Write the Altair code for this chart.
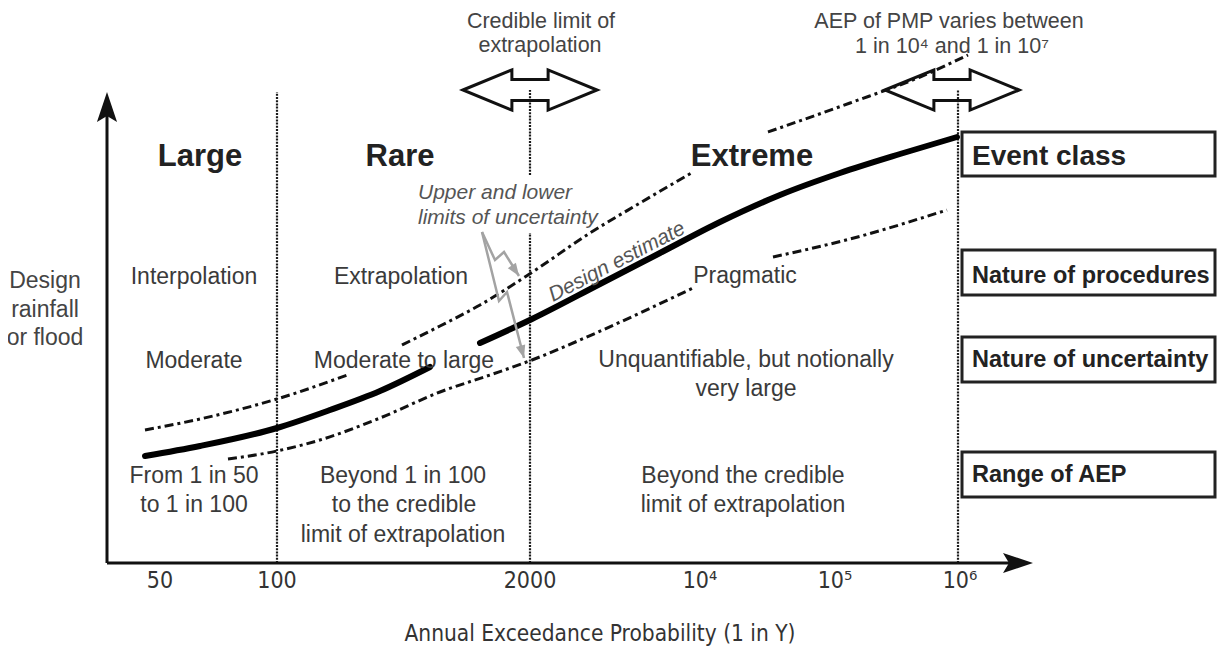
import altair as alt
import pandas as pd

# Diagram units: X = distance to the right of the vertical axis, Y = height above the horizontal axis
X_DOMAIN = [-99, 1110]
Y_DOMAIN = [-80, 555]

# ---- curves (design estimate and uncertainty limits), split where labels interrupt them ----
design_x_a = [38, 93, 170, 223, 273, 323]
design_y_a = [107, 117, 135, 153, 172, 196]
design_x_b = [373, 425, 493, 553, 613, 673, 733, 793, 850]
design_y_b = [220, 244, 279, 310, 341, 368, 390, 409, 426]

upper_x_a = [38, 93, 170, 243]
upper_y_a = [133, 144, 164, 189]
upper_x_b = [295, 333, 373, 424, 483, 533, 586]
upper_y_b = [218, 237, 258, 290, 330, 360, 391]
upper_x_c = [661, 743, 813, 861]
upper_y_c = [431, 460, 486, 508]

lower_x_a = [121, 170, 213, 273, 333, 383, 425, 473, 533, 586]
lower_y_a = [104, 112, 123, 145, 171, 188, 203, 223, 250, 275]
lower_x_b = [666, 743, 840]
lower_y_b = [306, 324, 353]

# ---- axis, ticks ----
tick_pos = [53, 170, 423, 593, 728, 853]
tick_labels = ["50", "100", "2000", "10⁴", "10⁵", "10⁶"]
x_title = "Annual Exceedance Probability (1 in Y)"
y_title_lines = ["Design", "rainfall", "or flood"]
y_title_y = [275, 246, 218]

# vertical class boundaries (x, y start, y end, width)
bound_x = [170, 423, 423, 851]
bound_y1 = [0, 0, 388, 0]
bound_y2 = [471, 330, 473, 473]

# ---- text ----
class_names = ["Large", "Rare", "Extreme"]
class_x = [93, 293, 645]

body_text = ["Interpolation", "Extrapolation", "Pragmatic",
             "Moderate", "Moderate to large", "Unquantifiable, but notionally", "very large",
             "From 1 in 50", "to 1 in 100",
             "Beyond 1 in 100", "to the credible", "limit of extrapolation",
             "Beyond the credible", "limit of extrapolation"]
body_x = [87, 294, 638, 87, 297, 639, 639, 87, 87, 296, 297, 296, 636, 636]
body_y = [279, 279, 280, 195, 195, 196, 167, 80, 51, 80, 51, 21, 80, 51]

top_text = ["Credible limit of", "extrapolation", "AEP of PMP varies between", "1 in 10⁴ and 1 in 10⁷"]
top_x = [434, 433, 842, 845]
top_y = [535, 511, 535, 510]

note_text = ["Upper and lower", "limits of uncertainty"]
note_x = [311, 311]
note_y = [364, 339]

box_labels = ["Event class", "Nature of procedures", "Nature of uncertainty", "Range of AEP"]
box_y1 = [387, 268, 181, 66]
box_y2 = [431, 313, 226, 111]
box_text_y = [398, 280, 196, 81]

# gray pointer arrows
ptr_id = [1, 1, 1, 1, 2, 2, 2, 2]
ptr_x = [375, 388, 397, 412, 375, 392, 400, 417]
ptr_y = [331, 303, 311, 287, 331, 262, 271, 205]
ptr_tip_x = [412, 417]
ptr_tip_y = [287, 205]
ptr_tip_angle = [326, 344]

# hollow double arrows
dbl_x = [423, 845]
dbl_y = [473, 473]

SANS = "Liberation Sans, Arial, Helvetica, sans-serif"
NARROW = "Liberation Sans Narrow, Arial Narrow, DejaVu Sans Condensed, sans-serif"

xs = alt.Scale(domain=X_DOMAIN, nice=False, zero=False)
ys = alt.Scale(domain=Y_DOMAIN, nice=False, zero=False)


def X(f="x"):
    return alt.X(f"{f}:Q", scale=xs, axis=None)


def Y(f="y"):
    return alt.Y(f"{f}:Q", scale=ys, axis=None)


def segs(*parts):
    rows = []
    for s, (xv, yv) in enumerate(parts):
        for i, (a, b) in enumerate(zip(xv, yv)):
            rows.append({"x": a, "y": b, "seg": s, "o": i})
    return pd.DataFrame(rows)


def text_layer(texts, xv, yv, size, color="#333333", weight="normal", style="normal",
               align="center", font=SANS, baseline="alphabetic", angle=None):
    df = pd.DataFrame({"t": texts, "x": xv, "y": yv})
    kw = dict(fontSize=size, color=color, fontWeight=weight, fontStyle=style,
              align=align, font=font, baseline=baseline)
    if angle is not None:
        kw["angle"] = angle
    return alt.Chart(df).mark_text(**kw).encode(x=X(), y=Y(), text="t:N")


layers = []

# boundaries (dotted)
bdf = pd.DataFrame({"x": bound_x, "y": bound_y1, "y2": bound_y2})
layers.append(alt.Chart(bdf).mark_rule(color="#1a1a1a", strokeWidth=2.2, strokeDash=[2, 1.2]).encode(
    x=X(), y=Y(), y2="y2:Q"))

# axes
axdf = pd.DataFrame({"x": [0, 0], "y": [0, 0], "x2": [0, 905], "y2": [452, 0]})
layers.append(alt.Chart(axdf).mark_rule(color="#111111", strokeWidth=3).encode(
    x=X(), y=Y(), x2="x2:Q", y2="y2:Q"))
ahead_up = pd.DataFrame({"x": [0], "y": [471]})
layers.append(alt.Chart(ahead_up).mark_point(
    shape="M0,0L0.67,2L0,1.6L-0.67,2Z", size=900, filled=True, color="#111111", opacity=1).encode(x=X(), y=Y()))
ahead_right = pd.DataFrame({"x": [926], "y": [0]})
layers.append(alt.Chart(ahead_right).mark_point(
    shape="M0,0L-2,-0.67L-1.6,0L-2,0.67Z", size=900, filled=True, color="#111111", opacity=1).encode(x=X(), y=Y()))

# curves
ddf = segs((design_x_a, design_y_a), (design_x_b, design_y_b))
layers.append(alt.Chart(ddf).mark_line(color="#000000", strokeWidth=6, interpolate="monotone",
                                       strokeCap="round").encode(
    x=X(), y=Y(), detail="seg:N", order="o:Q"))
udf = segs((upper_x_a, upper_y_a), (upper_x_b, upper_y_b), (upper_x_c, upper_y_c))
layers.append(alt.Chart(udf).mark_line(color="#111111", strokeWidth=3, interpolate="monotone",
                                       strokeDash=[9, 4, 3, 4]).encode(
    x=X(), y=Y(), detail="seg:N", order="o:Q"))
ldf = segs((lower_x_a, lower_y_a), (lower_x_b, lower_y_b))
layers.append(alt.Chart(ldf).mark_line(color="#111111", strokeWidth=3, interpolate="monotone",
                                       strokeDash=[9, 4, 3, 4]).encode(
    x=X(), y=Y(), detail="seg:N", order="o:Q"))

# gray pointer arrows
pdf = pd.DataFrame({"x": ptr_x, "y": ptr_y, "id": ptr_id, "o": list(range(len(ptr_x)))})
layers.append(alt.Chart(pdf).mark_line(color="#a3a3a3", strokeWidth=2.5).encode(
    x=X(), y=Y(), detail="id:N", order="o:Q"))
tdf = pd.DataFrame({"x": ptr_tip_x, "y": ptr_tip_y, "a": ptr_tip_angle})
layers.append(alt.Chart(tdf).mark_point(
    shape="M0,0L-0.65,-1.7L0.65,-1.7Z", size=225, filled=True, color="#a3a3a3", opacity=1).encode(
    x=X(), y=Y(), angle=alt.Angle("a:Q", scale=None)))

# hollow double arrows
dbl = pd.DataFrame({"x": dbl_x, "y": dbl_y})
layers.append(alt.Chart(dbl).mark_point(
    shape="M-1,0L-0.27,-0.3L-0.27,-0.155L0.27,-0.155L0.27,-0.3L1,0L0.27,0.3L0.27,0.155L-0.27,0.155L-0.27,0.3Z",
    size=18000, filled=False, color="#111111", strokeWidth=3, opacity=1).encode(x=X(), y=Y()))

# boxes
boxdf = pd.DataFrame({"x": [855] * 4, "x2": [1108] * 4, "y": box_y1, "y2": box_y2})
layers.append(alt.Chart(boxdf).mark_rect(fill="#ffffff", stroke="#222222", strokeWidth=3).encode(
    x=X(), x2="x2:Q", y=Y(), y2="y2:Q"))

# texts
layers.append(text_layer(class_names, class_x, [397] * 3, 31, color="#222222", weight="bold"))
layers.append(text_layer(body_text, body_x, body_y, 23, color="#3a3a3a"))
layers.append(text_layer(y_title_lines, [-62] * 3, y_title_y, 23, color="#444444"))
layers.append(text_layer(top_text, top_x, top_y, 21.5, color="#444444"))
layers.append(text_layer(note_text, note_x, note_y, 21, color="#555555", style="italic", align="left"))
layers.append(text_layer(["Design estimate"], [510], [301], 21, color="#555555", style="italic",
                         baseline="middle", angle=332.5))
layers.append(text_layer(tick_labels, tick_pos, [-25] * 6, 23, color="#333333", font=NARROW))
layers.append(text_layer([x_title], [493], [-78], 22.5, color="#333333", font=NARROW))
layers.append(text_layer(box_labels[:1], [865], box_text_y[:1], 28, color="#222222", weight="bold", align="left"))
layers.append(text_layer(box_labels[1:], [865] * 3, box_text_y[1:], 23.5, color="#222222", weight="bold",
                         align="left"))

chart = alt.layer(*layers).properties(
    width=1209, height=635, autosize="none",
    padding={"left": 0, "top": 0, "right": 0, "bottom": 8},
    background="white",
).configure_view(strokeWidth=0)

chart.save("out.html", embed_options={"renderer": "svg", "actions": False})
